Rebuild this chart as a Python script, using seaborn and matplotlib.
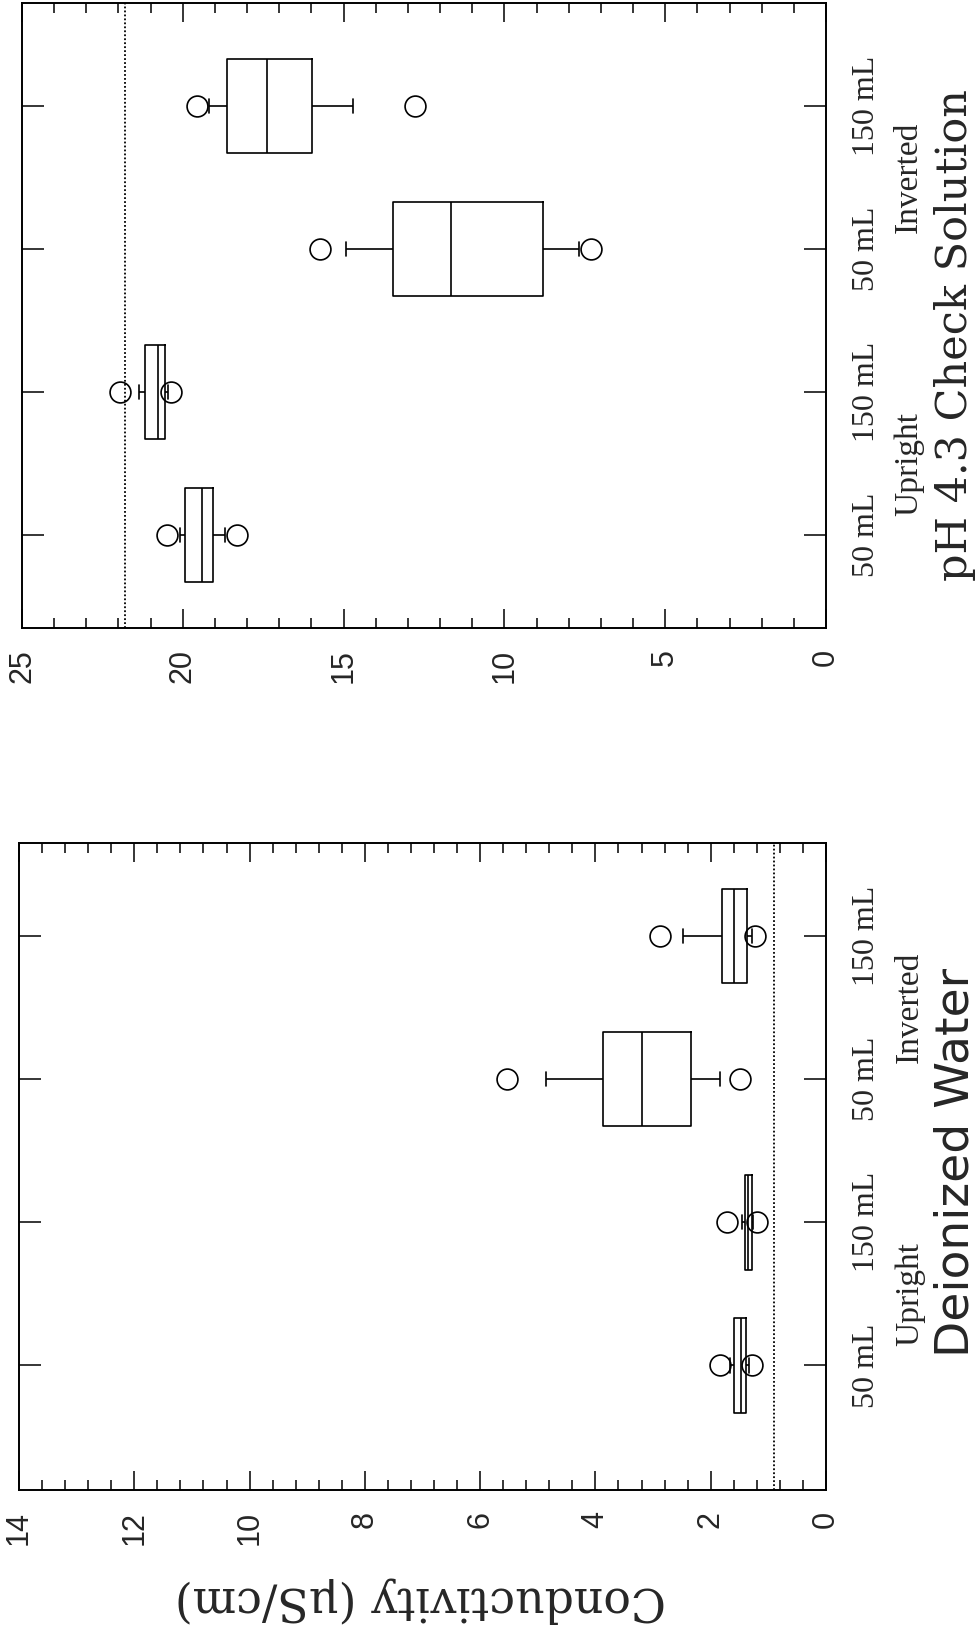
import numpy as np
import pandas as pd
import seaborn as sns
import matplotlib.pyplot as plt
from matplotlib.ticker import MultipleLocator

# bottles, listed from top of the (rotated) page downwards
groups = ["150 mL Inverted", "50 mL Inverted", "150 mL Upright", "50 mL Upright"]
size_labels = ["150 mL", "50 mL", "150 mL", "50 mL"]
position_labels = ["Inverted", "Upright"]

# conductivity readings (uS/cm), nine per bottle, low to high
ph_150_inv = [12.79, 14.71, 15.98, 16.70, 17.38, 18.00, 18.62, 19.20, 19.56]
ph_50_inv = [7.30, 7.68, 8.80, 10.20, 11.65, 12.60, 13.46, 14.92, 15.74]
ph_150_up = [20.36, 20.45, 20.55, 20.65, 20.76, 20.95, 21.17, 21.35, 21.95]
ph_50_up = [18.30, 18.69, 19.05, 19.25, 19.41, 19.65, 19.93, 20.08, 20.50]

di_150_inv = [1.24, 1.28, 1.37, 1.50, 1.60, 1.70, 1.80, 2.48, 2.88]
di_50_inv = [1.50, 1.84, 2.35, 2.80, 3.20, 3.50, 3.86, 4.86, 5.53]
di_150_up = [1.20, 1.26, 1.28, 1.31, 1.35, 1.38, 1.41, 1.46, 1.71]
di_50_up = [1.28, 1.34, 1.39, 1.43, 1.47, 1.53, 1.60, 1.66, 1.84]

# expected conductivity of each solution (dotted line)
ph_reference = 21.8
di_reference = 0.9

SERIF = ["DejaVu Serif"]
TIMES = ["Liberation Serif", "DejaVu Serif"]


def make_df(lists):
    rows = []
    for g, vals in zip(groups, lists):
        for v in vals:
            rows.append({"group": g, "value": v})
    return pd.DataFrame(rows)


def panel(ax, df, xmax, major, minor, ref, ylim, label_x, pad):
    sns.boxplot(data=df, x="value", y="group", order=groups, orient="h",
                whis=(12.5, 87.5), width=0.66, fill=False,
                color="black", linecolor="black", linewidth=1.2,
                flierprops=dict(marker="o", markersize=15, markerfacecolor="none",
                                markeredgecolor="black", markeredgewidth=1.2),
                capwidths=0.1, ax=ax)
    ax.axvline(ref, color="black", lw=1.3, ls=(0, (1, 1.2)))
    ax.set_xlim(xmax, 0)
    ax.set_ylim(*ylim)
    ax.set_xlabel("")
    ax.set_ylabel("")

    ax.xaxis.set_major_locator(MultipleLocator(major))
    ax.xaxis.set_minor_locator(MultipleLocator(minor))
    ax.tick_params(axis="x", which="both", direction="in", top=True, bottom=True,
                   width=1.3, labelrotation=90, labelsize=22, pad=pad)
    ax.tick_params(axis="x", which="major", length=14)
    ax.tick_params(axis="x", which="minor", length=7)

    ax.set_yticks(range(4))
    ax.set_yticklabels(size_labels, rotation=90, va="center",
                       fontfamily=TIMES, fontsize=23)
    ax.tick_params(axis="y", which="both", direction="in", left=True, right=True,
                   labelleft=False, labelright=True, length=16, width=1.3, pad=19)
    ax.tick_params(axis="y", which="minor", left=False, right=False)

    for s in ax.spines.values():
        s.set_visible(True)
        s.set_linewidth(1.4)
        s.set_color("black")

    tr = ax.get_yaxis_transform()
    ax.text(label_x, 0.5, position_labels[0], transform=tr, rotation=90,
            ha="center", va="center", fontsize=24, fontfamily=TIMES)
    ax.text(label_x, 2.5, position_labels[1], transform=tr, rotation=90,
            ha="center", va="center", fontsize=24, fontfamily=TIMES)


def main():
    sns.set_style("white")
    plt.rcParams["font.family"] = ["Liberation Sans", "DejaVu Sans"]

    W, H = 979, 1627
    fig = plt.figure(figsize=(W / 100, H / 100), dpi=100)

    ax_ph = fig.add_axes([22 / W, 1 - 628 / H, 804 / W, 625 / H])
    ax_di = fig.add_axes([19 / W, 1 - 1490 / H, 807 / W, 647 / H])

    panel(ax_ph, make_df([ph_150_inv, ph_50_inv, ph_150_up, ph_50_up]),
          25, 5, 1, ph_reference, (3.65, -0.72), (909 - 22) / 804, 15)
    panel(ax_di, make_df([di_150_inv, di_50_inv, di_150_up, di_50_up]),
          14, 2, 0.4, di_reference, (3.87, -0.65), (910 - 19) / 807, 15)

    fig.text(955 / W, 1 - 335 / H, "pH 4.3 Check Solution", rotation=90,
             ha="center", va="center", fontsize=31, fontfamily=SERIF)
    fig.text(956 / W, 1 - 1162 / H, "Deionized Water", rotation=90,
             ha="center", va="center", fontsize=34, fontfamily=["DejaVu Sans"])
    fig.text(420 / W, 1 - 1600 / H, "Conductivity (μS/cm)", rotation=180,
             ha="center", va="center", fontsize=33, fontfamily=SERIF)

    fig.savefig("out.png", dpi=100, facecolor="white")
    plt.close(fig)


if __name__ == "__main__":
    main()
